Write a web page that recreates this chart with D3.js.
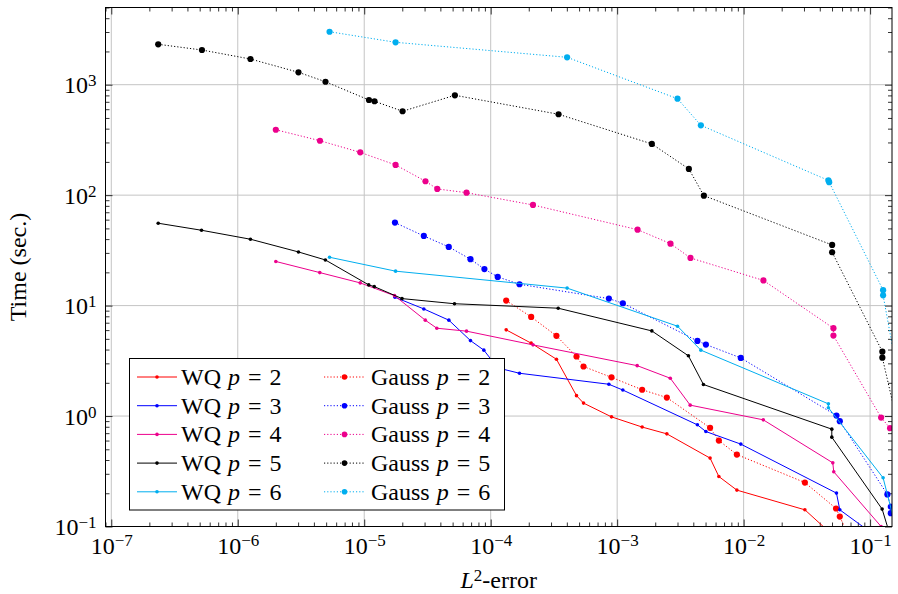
<!doctype html>
<meta charset=utf8>
<title>WQ vs Gauss timing</title>
<style>
  html, body { margin: 0; background: white; }
  svg { display: block; font-family: "Liberation Serif", "DejaVu Serif", serif; }
  .grid line { stroke: #c4c4c4; stroke-width: 1; }
  .axis path { display: none; }
  .axis line { stroke: black; stroke-width: 0.8; }
  .axis text { font-size: 24px; fill: black; font-family: "Liberation Serif", serif; }
  .series path { fill: none; stroke-width: 1; }
  .gauss path { stroke-dasharray: 1.2, 2; }
</style>
<svg width=898 height=594></svg>
<script src=https://d3js.org/d3.v7.min.js></script>
<script>
  // values: [L2-error, time in seconds]
  var wq2 = [[1.326e-4, 6.03], [2.09e-4, 4.57], [3.31e-4, 3.27], [4.77e-4, 1.53], [5.42e-4, 1.31],
    [9.02e-4, 0.983], [1.576e-3, 0.795], [2.47e-3, 0.69], [5.43e-3, 0.416], [6.37e-3, 0.2835],
    [8.84e-3, 0.2135], [0.0305, 0.1416], [0.051, 0.0829]];
  var wq3 = [[1.75e-5, 11.9], [2.96e-5, 9.33], [4.67e-5, 7.38], [6.92e-5, 4.82], [8.83e-5, 3.95],
    [1.136e-4, 2.73], [1.69e-4, 2.44], [8.6e-4, 1.94], [1.109e-3, 1.72], [4.31e-3, 0.833],
    [5.03e-3, 0.724], [9.5e-3, 0.557], [0.0542, 0.2006], [0.0576, 0.1416], [0.1075, 0.0841]];
  var wq4 = [[2.0e-6, 25.1], [4.45e-6, 19.9], [9.3e-6, 16.05], [1.736e-5, 12.3], [3.04e-5, 7.38],
    [3.75e-5, 6.24], [6.44e-5, 5.87], [2.16e-4, 4.41], [1.44e-3, 2.86], [2.63e-3, 2.2],
    [3.78e-3, 1.255], [0.0143, 0.924], [0.0507, 0.377], [0.0516, 0.313], [0.1222, 0.1]];
  var wq5 = [[2.35e-7, 55.7], [5.17e-7, 48.1], [1.26e-6, 39.9], [3.02e-6, 30.6], [4.93e-6, 25.9],
    [1.085e-5, 15.4], [1.2e-5, 14.86], [1.99e-5, 11.57], [5.17e-5, 10.4], [3.42e-4, 9.47],
    [1.88e-3, 5.9], [3.66e-3, 3.51], [4.81e-3, 1.93], [0.0498, 0.761], [0.0498, 0.644],
    [0.1245, 0.1437], [0.1439, 0.0833]];
  var wq6 = [[5.32e-6, 27.4], [1.77e-5, 20.5], [4.02e-4, 14.4], [3.0e-3, 6.51], [4.59e-3, 3.95],
    [0.0468, 1.29], [0.0468, 1.19], [0.1267, 0.276], [0.1695, 0.0758]];

  var gauss2 = [[1.326e-4, 11.1], [2.09e-4, 7.9], [3.31e-4, 5.32], [4.77e-4, 3.46], [5.42e-4, 2.81],
    [9.02e-4, 2.24], [1.576e-3, 1.73], [2.47e-3, 1.47], [5.43e-3, 0.782], [6.37e-3, 0.6],
    [8.84e-3, 0.448], [0.0305, 0.25], [0.0538, 0.1455], [0.0576, 0.123], [0.067, 0.084]];
  var gauss3 = [[1.75e-5, 56.4], [2.96e-5, 42.7], [4.66e-5, 34.0], [6.92e-5, 26.3], [8.92e-5, 21.4],
    [1.136e-4, 18.2], [1.69e-4, 15.6], [8.6e-4, 11.57], [1.109e-3, 10.5], [4.31e-3, 4.79],
    [5.03e-3, 4.44], [9.5e-3, 3.36], [0.0542, 1.01], [0.0576, 0.899], [0.137, 0.195],
    [0.1458, 0.151], [0.1458, 0.132]];
  var gauss4 = [[2.0e-6, 391], [4.47e-6, 311], [9.3e-6, 244], [1.77e-5, 187.7], [3.05e-5, 133.6],
    [3.78e-5, 113.8], [6.44e-5, 105.3], [2.16e-4, 81.5], [1.45e-3, 48.7], [2.64e-3, 36.4],
    [3.8e-3, 27.0], [0.01434, 16.9], [0.0513, 6.24], [0.0513, 5.35], [0.1222, 0.969], [0.1439, 0.777]];
  var gauss5 = [[2.35e-7, 2321], [5.21e-7, 2061], [1.26e-6, 1708], [3.02e-6, 1295], [4.94e-6, 1064],
    [1.09e-5, 727], [1.206e-5, 708], [2.01e-5, 575], [5.21e-5, 802], [3.44e-4, 540],
    [1.88e-3, 291], [3.69e-3, 172.6], [4.85e-3, 99], [0.0501, 35.4], [0.0501, 30.4],
    [0.125, 3.83], [0.125, 3.38], [0.17, 0.73]];
  var gauss6 = [[5.32e-6, 3017], [1.77e-5, 2420], [4.02e-4, 1770], [3.0e-3, 747], [4.59e-3, 429],
    [0.0468, 136], [0.0475, 131], [0.1267, 13.8], [0.1267, 12.4], [0.17, 1.98]];

  var orders = [2, 3, 4, 5, 6];
  var wqData = [wq2, wq3, wq4, wq5, wq6];
  var gaussData = [gauss2, gauss3, gauss4, gauss5, gauss6];
  var palette = ['#ff0000', '#0000ff', '#ec008c', '#000000', '#00aeef'];

  var xMajor = [1e-7, 1e-6, 1e-5, 1e-4, 1e-3, 1e-2, 1e-1];
  var yMajor = [1e-1, 1e0, 1e1, 1e2, 1e3];

  var svg = d3.select('svg');
  var plot = {left: 105.5, right: 892, top: 7.5, bottom: 526.5};

  var x = d3.scaleLog().domain([9e-8, 0.149]).range([plot.left, plot.right]);
  var y = d3.scaleLog().domain([0.1, 5000]).range([plot.bottom, plot.top]);

  function minors(scale) {
    var d = scale.domain(), out = [];
    for (var e = Math.floor(Math.log10(d[0])); e <= Math.ceil(Math.log10(d[1])); e++) {
      for (var k = 2; k <= 9; k++) {
        var v = k * Math.pow(10, e);
        if (v >= d[0] && v <= d[1]) out.push(v);
      }
    }
    return out;
  }

  // grid
  var grid = svg.append('g').attr('class', 'grid');
  grid.selectAll('line.v').data(xMajor).enter().append('line').attr('class', 'v')
    .attr('x1', x).attr('x2', x).attr('y1', plot.top).attr('y2', plot.bottom);
  grid.selectAll('line.h').data(yMajor).enter().append('line').attr('class', 'h')
    .attr('y1', y).attr('y2', y).attr('x1', plot.left).attr('x2', plot.right);

  function sci(sel) {
    sel.each(function(d) {
      var e = Math.round(Math.log10(d));
      var t = d3.select(this).text(null);
      t.append('tspan').text('10');
      t.append('tspan').attr('dy', '-0.42em').attr('font-size', '17px')
        .text(e < 0 ? '\u2212' + (-e) : e);
    });
  }

  // axes, ticks inside on all four sides
  var axBottom = svg.append('g').attr('class', 'axis')
    .attr('transform', 'translate(0,' + plot.bottom + ')');
  axBottom.append('g').call(d3.axisBottom(x).tickValues(minors(x)).tickSize(-4).tickFormat(''));
  axBottom.append('g').call(d3.axisBottom(x).tickValues(xMajor).tickSize(-7).tickSizeOuter(0))
    .selectAll('text').attr('y', 27).attr('dy', 0).call(sci);

  var axTop = svg.append('g').attr('class', 'axis')
    .attr('transform', 'translate(0,' + plot.top + ')');
  axTop.append('g').call(d3.axisTop(x).tickValues(minors(x)).tickSize(-4).tickFormat(''));
  axTop.append('g').call(d3.axisTop(x).tickValues(xMajor).tickSize(-7).tickFormat(''));

  var axLeft = svg.append('g').attr('class', 'axis')
    .attr('transform', 'translate(' + plot.left + ',0)');
  axLeft.append('g').call(d3.axisLeft(y).tickValues(minors(y)).tickSize(-4).tickFormat(''));
  axLeft.append('g').call(d3.axisLeft(y).tickValues(yMajor).tickSize(-7).tickSizeOuter(0))
    .selectAll('text').attr('x', -9).attr('dy', '0.34em').call(sci);

  var axRight = svg.append('g').attr('class', 'axis')
    .attr('transform', 'translate(' + plot.right + ',0)');
  axRight.append('g').call(d3.axisRight(y).tickValues(minors(y)).tickSize(-4).tickFormat(''));
  axRight.append('g').call(d3.axisRight(y).tickValues(yMajor).tickSize(-7).tickFormat(''));

  svg.append('clipPath').attr('id', 'clip').append('rect')
    .attr('x', plot.left).attr('y', plot.top)
    .attr('width', plot.right - plot.left).attr('height', plot.bottom - plot.top);

  var line = d3.line().x(function(d) { return x(d[0]); }).y(function(d) { return y(d[1]); });

  // plotted in legend order: WQ p, Gauss p, ...
  var series = [];
  orders.forEach(function(p, i) {
    series.push({label: 'WQ', p: p, data: wqData[i], color: palette[i], gauss: false});
    series.push({label: 'Gauss', p: p, data: gaussData[i], color: palette[i], gauss: true});
  });

  var marks = svg.append('g').attr('clip-path', 'url(#clip)');
  var s = marks.selectAll('.series').data(series).enter().append('g')
    .attr('class', function(d) { return d.gauss ? 'series gauss' : 'series'; });
  s.append('path')
    .attr('d', function(d) { return line(d.data); })
    .style('stroke', function(d) { return d.color; });
  s.selectAll('circle').data(function(d) {
    return d.data.map(function(v) { return {v: v, s: d}; });
  }).enter().append('circle')
    .attr('cx', function(d) { return x(d.v[0]); })
    .attr('cy', function(d) { return y(d.v[1]); })
    .attr('r', function(d) { return d.s.gauss ? 3.1 : 1.8; })
    .style('fill', function(d) { return d.s.color; });

  // frame
  svg.append('rect')
    .attr('x', plot.left).attr('y', plot.top)
    .attr('width', plot.right - plot.left).attr('height', plot.bottom - plot.top)
    .style('fill', 'none').style('stroke', 'black').style('stroke-width', 1);

  // axis titles
  var xt = svg.append('text').attr('x', (plot.left + plot.right) / 2).attr('y', 588)
    .attr('text-anchor', 'middle').style('font-size', '24px');
  xt.append('tspan').style('font-style', 'italic').text('L');
  xt.append('tspan').attr('dy', '-0.42em').style('font-size', '17px').text('2');
  xt.append('tspan').attr('dy', '0.3em').text('-error');

  svg.append('text')
    .attr('transform', 'translate(26,' + (plot.top + plot.bottom) / 2 + ') rotate(-90)')
    .attr('text-anchor', 'middle').style('font-size', '24px')
    .text('Time (sec.)');

  // legend
  var lg = svg.append('g');
  lg.append('rect').attr('x', 129.5).attr('y', 358.5).attr('width', 375).attr('height', 151.5)
    .style('fill', 'white').style('stroke', 'black').style('stroke-width', 1);
  var cols = [{x0: 137, x1: 177, tx: 181}, {x0: 324, x1: 365, tx: 371}];
  var entry = lg.selectAll('.entry').data(series).enter().append('g')
    .attr('class', function(d) { return d.gauss ? 'entry series gauss' : 'entry series'; })
    .attr('transform', function(d, i) {
      return 'translate(0,' + (377 + Math.floor(i / 2) * 28.7) + ')';
    });
  entry.append('path')
    .attr('d', function(d) { var c = cols[d.gauss ? 1 : 0]; return 'M' + c.x0 + ',0H' + c.x1; })
    .style('stroke', function(d) { return d.color; });
  entry.append('circle')
    .attr('cx', function(d) { var c = cols[d.gauss ? 1 : 0]; return (c.x0 + c.x1) / 2; })
    .attr('r', function(d) { return d.gauss ? 2.8 : 1.8; })
    .style('fill', function(d) { return d.color; });
  var lt = entry.append('text')
    .attr('x', function(d) { return cols[d.gauss ? 1 : 0].tx; })
    .attr('y', 8).style('font-size', '24px');
  lt.append('tspan').text(function(d) { return d.label; });
  lt.append('tspan').attr('dx', 7).style('font-style', 'italic').text('p');
  lt.append('tspan').attr('dx', 8).text('=');
  lt.append('tspan').attr('dx', 8).text(function(d) { return d.p; });
</script>
